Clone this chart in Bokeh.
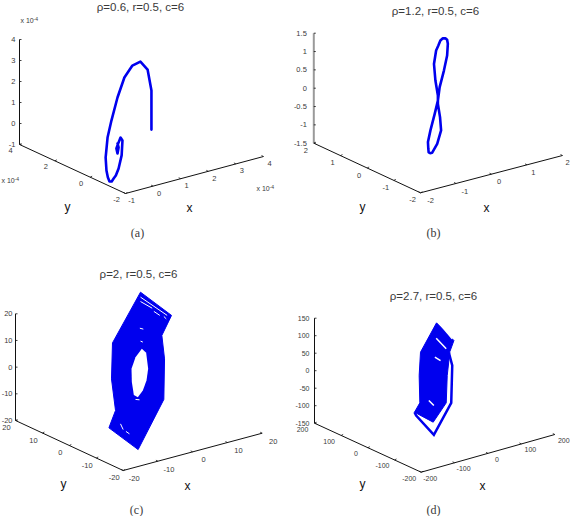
from bokeh.plotting import figure
from bokeh.layouts import column, row
from bokeh.embed import file_html
from bokeh.resources import INLINE
from bokeh.core.properties import value

# ---------- data: (projected x, projected z) ----------
titles = ["ρ=0.6, r=0.5, c=6", "ρ=1.2, r=0.5, c=6", "ρ=2, r=0.5, c=6", "ρ=2.7, r=0.5, c=6"]
captions = ["(a)", "(b)", "(c)", "(d)"]

a_x_ticks = [-1, 0, 1, 2, 3, 4]
a_y_ticks = [-2, 0, 2, 4]
a_z_ticks = [-1, 0, 1, 2, 3, 4]
a_h = [-0.06, -0.06, -0.20, -0.46, -0.75, -1.04, -1.29, -1.51, -1.65, -1.72, -1.69, -1.64, -1.58, -1.50,
       -1.43, -1.35, -1.25, -1.14, -1.11, -1.18, -1.25, -1.33, -1.29, -1.25, -1.29]
a_v = [-0.29, 1.57, 2.57, 2.95, 2.76, 2.19, 1.24, 0.14, -0.67, -1.62, -2.24, -2.56, -2.76, -2.76,
       -2.62, -2.48, -2.14, -1.52, -0.81, -0.67, -0.90, -1.19, -1.43, -1.14, -0.95]

b_x_ticks = [-2, -1, 0, 1, 2]
b_y_ticks = [-2, -1, 0, 1, 2]
b_z_ticks = [-1.5, -1, -0.5, 0, 0.5, 1, 1.5]
b_h = [-1.51, -1.58, -1.62, -1.56, -1.50, -1.44, -1.37, -1.30, -1.25, -1.23, -1.25, -1.34, -1.46, -1.51, -1.60,
       -1.72, -1.79, -1.78, -1.77, -1.73, -1.67, -1.53, -1.42, -1.45, -1.51, -1.51]
b_v = [-0.20, 0.21, 0.66, 1.03, 1.16, 1.30, 1.36, 1.36, 1.32, 1.21, 0.89, 0.48, 0.03, -0.34, -0.70,
       -1.15, -1.47, -1.65, -1.75, -1.77, -1.76, -1.52, -1.15, -0.79, -0.43, -0.20]

c_x_ticks = [-20, -10, 0, 10, 20]
c_y_ticks = [-20, -10, 0, 10, 20]
c_z_ticks = [-20, -10, 0, 10, 20]
c_body_h = [-15.01, -6.09, -8.87, -8.1, -8.3, -15.7, -24.1, -22.2, -23.36, -23.07]
c_body_v = [28.1, 19.4, 11.9, 3.1, -12.1, -30.9, -22.75, -16.25, -4.4, 9.1]
c_hole_h = [-14.63, -13.38, -12.81, -13.29, -14.34, -15.78, -16.93, -17.51, -17.6, -16.45]
c_hole_v = [6.9, 5.4, -0.6, -5.0, -8.75, -11.25, -10.4, -5.6, -0.6, 3.75]
c_gaps_h = [[-15.01, -7.34], [-15.01, -11.65], [-11.17, -9.45], [-8.3, -7.6],
            [-20.77, -20.0], [-19.2, -18.2], [-15.2, -14.2], [-15.0, -14.34], [-16.45, -15.3]]
c_gaps_v = [[26.25, 19.4], [24.6, 22.1], [20.9, 19.4], [19.0, 18.1],
            [-21.25, -23.4], [-24.1, -25.0], [14.6, 14.25], [9.75, 9.4], [-12.1, -12.25]]

d_x_ticks = [-200, -100, 0, 100, 200]
d_y_ticks = [-200, -100, 0, 100, 200]
d_z_ticks = [-150, -100, -50, 0, 50, 100, 150]
d_body_h = [-154, -102, -114, -122, -125, -164, -220, -204, -206, -202]
d_body_v = [136.7, 86.2, 54.8, -13.8, -91.9, -147.1, -118.6, -91.9, -13.8, 52.9]
d_ring_h = [-117, -107, -110, -162, -215, -220]
d_ring_v = [51, 14.8, -91.9, -183.3, -128.1, -118.6]
d_gaps_h = [[-155, -125], [-142, -107], [-159, -142], [-177, -162]]
d_gaps_v = [[92.9, 62.4], [131.9, 91], [38.6, 29], [-85.2, -99.5]]

BLUE = "#0000ee"
INK = "#3a3a3a"
SANS = value("Liberation Sans")
SERIF = value("Liberation Serif")


class Panel:
    """A 3-D box axis drawn in a flat figure; (h, v) are projected x and z units."""

    def __init__(self, w, ht, F, X, B, ztop, xt, yt, zt):
        self.F, self.X, self.B, self.ztop = F, X, B, ztop
        self.xt, self.yt, self.zt = xt, yt, zt
        self.sh = (X[0] - F[0]) / (xt[-1] - xt[0])
        self.sv = (B[1] - ztop) / (zt[-1] - zt[0])
        self.p = figure(width=w, height=ht, output_backend="svg", toolbar_location=None,
                        x_range=(self.h(0), self.h(w)), y_range=(self.v(ht), self.v(0)),
                        x_axis_location=None, y_axis_location=None, min_border=0,
                        outline_line_color=None, background_fill_color="white",
                        border_fill_color="white")
        self.p.grid.visible = False

    def h(self, px):
        return (px - self.F[0]) / self.sh + self.xt[0]

    def v(self, py):
        return (self.B[1] - py) / self.sv + self.zt[0]

    def label(self, px, py, txt, size, font=SANS, color=INK, align="center"):
        self.p.text([self.h(px)], [self.v(py)], text=[txt], text_font=font,
                    text_font_size=f"{size}px", text_color=color, text_align=align,
                    text_baseline="middle")

    def seg(self, P, Q, color="#111111", width=1):
        self.p.line([self.h(P[0]), self.h(Q[0])], [self.v(P[1]), self.v(Q[1])],
                    line_color=color, line_width=width)

    def axes(self, xo, yo, zo, size=7.5, zcolor="#111111", zwidth=1, fmt=str, xo_end=None):
        F, X, B = self.F, self.X, self.B
        xo_end = xo_end or xo
        self.seg(F, X)
        self.seg(F, B)
        self.seg(B, (B[0], self.ztop), zcolor, zwidth)
        for t in self.xt:
            f = (t - self.xt[0]) / (self.xt[-1] - self.xt[0])
            P = (F[0] + f * (X[0] - F[0]), F[1] + f * (X[1] - F[1]))
            self.seg(P, (P[0] - 2, P[1] - 1), width=0.8)
            ox = xo[0] + f * (xo_end[0] - xo[0])
            oy = xo[1] + f * (xo_end[1] - xo[1])
            self.label(P[0] + ox, P[1] + oy, fmt(t), size)
        for t in self.yt:
            f = (t - self.yt[0]) / (self.yt[-1] - self.yt[0])
            P = (F[0] + f * (B[0] - F[0]), F[1] + f * (B[1] - F[1]))
            self.seg(P, (P[0] + 2, P[1] - 1), width=0.8)
            self.label(P[0] + yo[0], P[1] + yo[1], fmt(t), size)
        for t in self.zt:
            py = B[1] + (self.ztop - B[1]) * (t - self.zt[0]) / (self.zt[-1] - self.zt[0])
            self.seg((B[0], py), (B[0] + 2, py), width=0.8)
            self.label(B[0] + zo, py, fmt(t), size, align="right")

    def head(self, title, tpos, cap, cpos, ypos, xpos):
        self.label(tpos[0], tpos[1], title, 11.5)
        self.label(cpos[0], cpos[1], cap, 12, font=SERIF)
        self.label(ypos[0], ypos[1], "y", 12, color="#111111")
        self.label(xpos[0], xpos[1], "x", 12, color="#111111")


def num(t):
    return f"{t:g}"


# (a)
A = Panel(285, 255, (125, 193), (263, 156), (19, 144), 39, a_x_ticks, a_y_ticks, a_z_ticks)
A.axes((6, 7), (-9, 6), -4, fmt=num)
A.head(titles[0], (140, 6), captions[0], (137, 232), (67, 206), (189, 207))
for (lx, ly) in [(20, 20), (1, 180), (256, 188)]:
    A.label(lx, ly, "x 10", 7, align="left")
    A.label(lx + 13, ly - 2, "-4", 5, align="left")
A.p.line(a_h, a_v, line_color=BLUE, line_width=2.6, line_join="round", line_cap="round")

# (b)
B = Panel(285, 255, (135, 192.3), (277, 155), (28.3, 142.7), 32.7, b_x_ticks, b_y_ticks, b_z_ticks)
B.axes((10, 8), (-8, 7), -7, zcolor="#9a9a9a", zwidth=2, fmt=num, xo_end=(5, 7))
B.head(titles[1], (150, 10), captions[1], (148, 232), (77, 206), (201, 207))
B.p.line(b_h, b_v, line_color=BLUE, line_width=2.6, line_join="round", line_cap="round")

# (c)
C = Panel(285, 261, (122.67, 215), (261.7, 177.7), (15, 165), 58.3, c_x_ticks, c_y_ticks, c_z_ticks)
C.axes((11, 8), (-9, 7), -3, fmt=num)
C.head(titles[2], (138, 18), captions[2], (136, 254), (63, 228), (187, 230))
C.p.patch(c_body_h, c_body_v, fill_color=BLUE, line_color=BLUE, line_width=1)
C.p.patch(c_hole_h, c_hole_v, fill_color="white", line_color=None)
C.p.multi_line(c_gaps_h, c_gaps_v, line_color="white", line_width=1)

# (d)
D = Panel(285, 261, (135.67, 216.7), (269.3, 179), (29, 167.7), 62.7, d_x_ticks, d_y_ticks, d_z_ticks)
D.axes((9, 6), (-12, 6), -5, size=7, fmt=num)
D.head(titles[3], (148, 40), captions[3], (148, 254), (77, 228), (197, 230))
D.p.patch(d_body_h, d_body_v, fill_color=BLUE, line_color=BLUE, line_width=1)
D.p.line(d_ring_h, d_ring_v, line_color=BLUE, line_width=2.5, line_join="miter")
D.p.multi_line(d_gaps_h, d_gaps_v, line_color="white", line_width=1.5)

page = column(row(A.p, B.p, spacing=0), row(C.p, D.p, spacing=0), spacing=0)
open("out.html", "w").write(file_html(page, INLINE))
